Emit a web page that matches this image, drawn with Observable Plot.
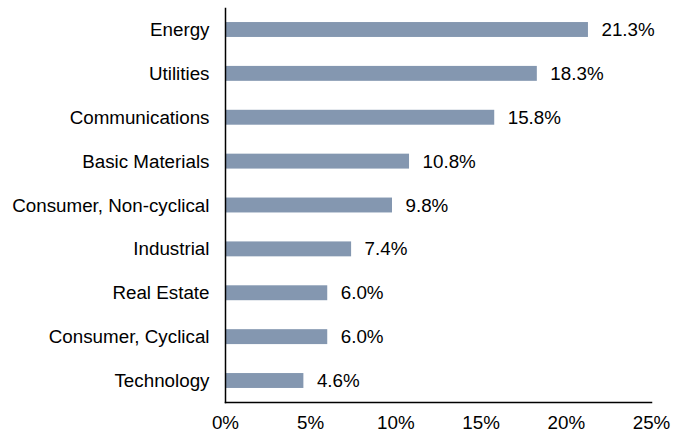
<!DOCTYPE html>
<html>
<head>
<meta charset="utf-8">
<script src="https://cdn.jsdelivr.net/npm/d3@7"></script>
<script src="https://cdn.jsdelivr.net/npm/@observablehq/plot@0.6"></script>
<style>
  html, body { margin: 0; padding: 0; background: #fff; }
</style>
</head>
<body>
<div id="chart"></div>
<script>
const categories = ["Energy", "Utilities", "Communications", "Basic Materials", "Consumer, Non-cyclical", "Industrial", "Real Estate", "Consumer, Cyclical", "Technology"];
const values = [21.3, 18.3, 15.8, 10.8, 9.8, 7.4, 6.0, 6.0, 4.6];
const xTicks = [0, 5, 10, 15, 20, 25];

const data = categories.map((c, i) => ({category: c, value: values[i]}));

const chart = Plot.plot({
  width: 684,
  height: 435,
  marginLeft: 225,
  marginRight: 33,
  marginTop: 8,
  marginBottom: 33,
  style: {fontFamily: "'Liberation Sans', Arial, sans-serif", fontSize: "18.8px", color: "#000", background: "#fff"},
  x: {domain: [0, 25], ticks: xTicks, tickFormat: d => d + "%", tickSize: 0, tickPadding: 13, label: null},
  y: {domain: categories, paddingInner: 0.66, paddingOuter: 0.32, round: false, tickSize: 0, tickPadding: 16, label: null},
  marks: [
    Plot.barX(data, {x: "value", y: "category", fill: "#8497b0"}),
    Plot.text(data, {x: "value", y: "category", text: d => d.value.toFixed(1) + "%", textAnchor: "start", dx: 13, fill: "#000"}),
    Plot.frame({anchor: "left", stroke: "#000", strokeWidth: 1.5}),
    Plot.frame({anchor: "bottom", stroke: "#000", strokeWidth: 1.5})
  ]
});
document.getElementById("chart").appendChild(chart);
</script>
</body>
</html>
